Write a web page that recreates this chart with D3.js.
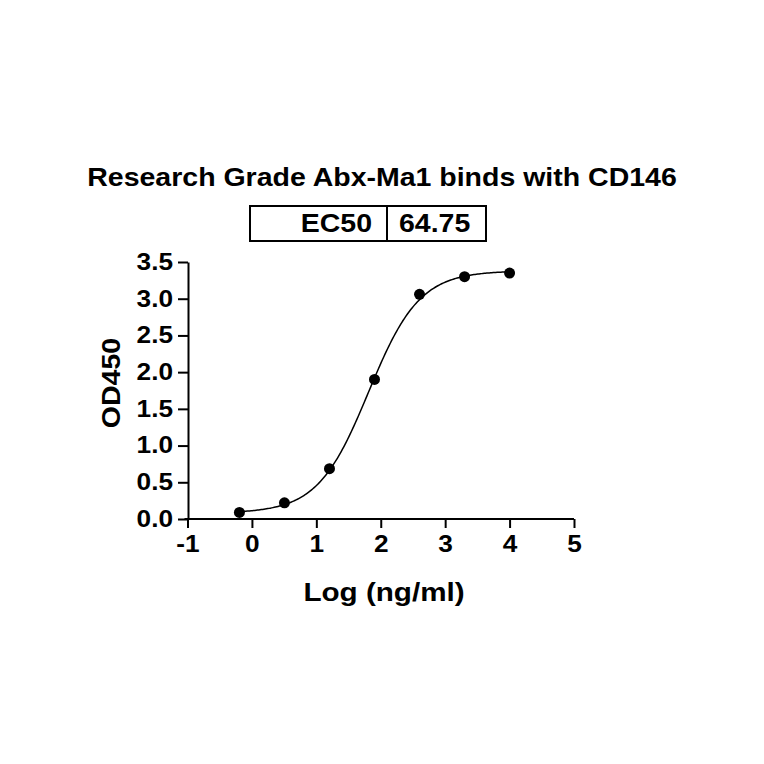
<!DOCTYPE html>
<meta charset="utf-8">
<style>
body { margin: 0; background: #fff; }
text { font-family: "Liberation Sans", Arial, sans-serif; font-weight: bold; fill: #000; }
</style>
<svg id="chart" width="764" height="764"></svg>
<script src="https://cdn.jsdelivr.net/npm/d3@7"></script>
<script>

// data
var logConc = [-0.194, 0.505, 1.204, 1.903, 2.602, 3.301, 4.0];
var od450 = [0.09, 0.22, 0.685, 1.90, 3.06, 3.30, 3.35];
// 4PL fit (bottom, top, logEC50, hill)
var fitParams = [0.08, 3.38, Math.log10(64.75), 1.1];
var xTicks = [-1, 0, 1, 2, 3, 4, 5];
var yTicks = [0, 0.5, 1, 1.5, 2, 2.5, 3, 3.5];
var tableLabels = ["EC50", "64.75"];
var title = "Research Grade Abx-Ma1 binds with CD146";

var sx = 1.14; // the font in the picture is wider than Arial

var svg = d3.select("#chart");

var x = d3.scaleLinear().domain([-1, 5]).range([187.5, 574]);
var y = d3.scaleLinear().domain([0, 3.5]).range([519, 262]);

// title
svg.append("text")
  .attr("transform", "translate(382,186) scale(" + sx + ",1)")
  .attr("text-anchor", "middle")
  .attr("font-size", 25)
  .text(title);

// EC50 table
var box = svg.append("g");
box.append("rect")
  .attr("x", 250).attr("y", 206).attr("width", 236).attr("height", 35)
  .attr("fill", "none").attr("stroke", "#000").attr("stroke-width", 2);
box.append("line")
  .attr("x1", 387).attr("x2", 387).attr("y1", 206).attr("y2", 241)
  .attr("stroke", "#000").attr("stroke-width", 2);
box.append("text")
  .attr("transform", "translate(372,232) scale(" + sx + ",1)")
  .attr("text-anchor", "end")
  .attr("font-size", 25)
  .text(tableLabels[0]);
box.append("text")
  .attr("transform", "translate(399,232) scale(" + sx + ",1)")
  .attr("font-size", 25)
  .text(tableLabels[1]);

// axes
var xAxis = svg.append("g")
  .attr("transform", "translate(0,519)")
  .call(d3.axisBottom(x).tickValues(xTicks).tickSize(9).tickSizeOuter(0).tickPadding(8)
    .tickFormat(function(d) { return String(d); }));
var yAxis = svg.append("g")
  .attr("transform", "translate(188,0)")
  .call(d3.axisLeft(y).tickValues(yTicks).tickSize(10).tickSizeOuter(0).tickPadding(4)
    .tickFormat(function(d) { return d.toFixed(1); }));

[xAxis, yAxis].forEach(function(a) {
  a.select(".domain").attr("stroke-width", 2).attr("stroke", "#000");
  a.selectAll(".tick line").attr("stroke-width", 2).attr("stroke", "#000");
  a.selectAll(".tick text").attr("font-size", 23).attr("font-family", null).attr("fill", "#000");
});
xAxis.select(".domain").attr("d", "M" + (x(-1) - 3) + ",0H" + x(5));
xAxis.selectAll(".tick text").attr("transform", "scale(" + sx + ",1)");
yAxis.selectAll(".tick text")
  .attr("x", -15 / sx)
  .attr("transform", "scale(" + sx + ",1)");

// axis titles
svg.append("text")
  .attr("transform", "translate(384,601) scale(" + sx + ",1)")
  .attr("text-anchor", "middle")
  .attr("font-size", 26)
  .text("Log (ng/ml)");
svg.append("text")
  .attr("transform", "translate(120,383) rotate(-90) scale(" + sx + ",1)")
  .attr("text-anchor", "middle")
  .attr("font-size", 25)
  .text("OD450");

// fitted curve
function fourPL(v) {
  var b = fitParams[0], t = fitParams[1], c = fitParams[2], h = fitParams[3];
  return b + (t - b) / (1 + Math.pow(10, (c - v) * h));
}
var curveX = d3.range(logConc[0], logConc[logConc.length - 1] + 0.001, 0.02);
svg.append("path")
  .datum(curveX)
  .attr("fill", "none")
  .attr("stroke", "#000")
  .attr("stroke-width", 1.5)
  .attr("d", d3.line().x(function(d) { return x(d); }).y(function(d) { return y(fourPL(d)); }));

// points
svg.selectAll("circle.pt")
  .data(logConc)
  .enter().append("circle")
  .attr("class", "pt")
  .attr("cx", function(d) { return x(d); })
  .attr("cy", function(d, i) { return y(od450[i]); })
  .attr("r", 5.5)
  .attr("fill", "#000");

</script>
